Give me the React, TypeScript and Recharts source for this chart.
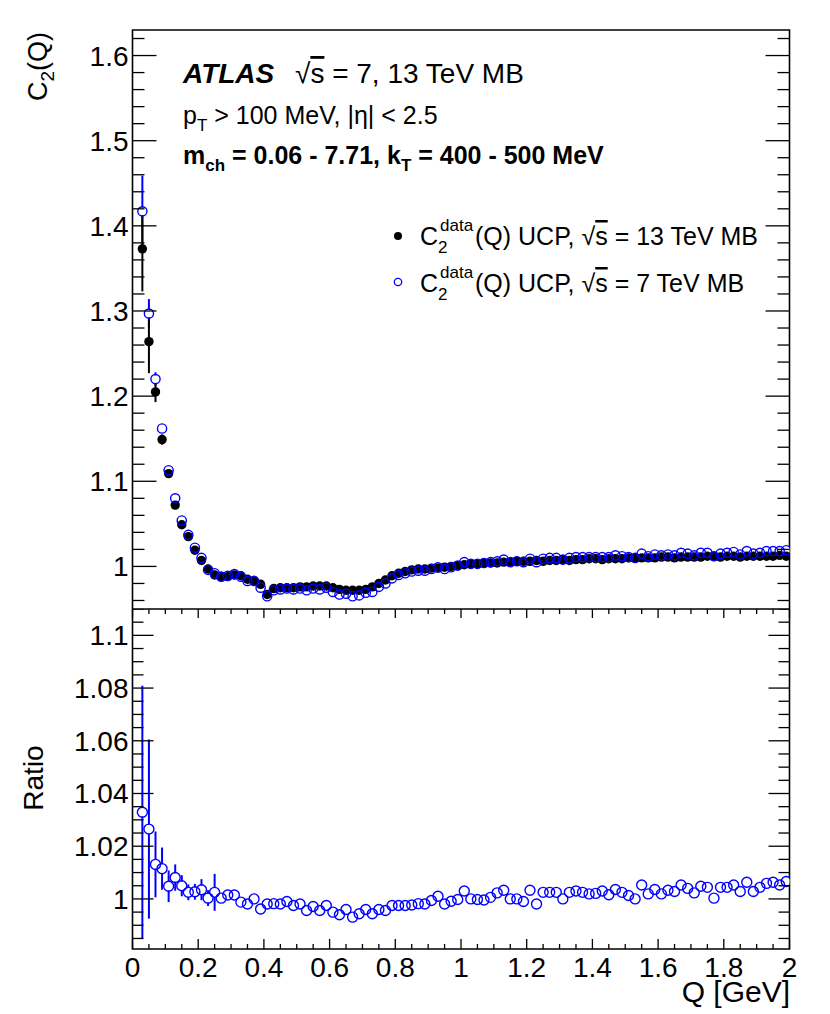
import { ScatterChart, Scatter, XAxis, YAxis, ErrorBar, ReferenceArea } from "recharts";

// bin centres in Q [GeV]
const qBins = [
  0.03, 0.05, 0.07, 0.09, 0.11, 0.13, 0.15, 0.17, 0.19, 0.21,
  0.23, 0.25, 0.27, 0.29, 0.31, 0.33, 0.35, 0.37, 0.39, 0.41,
  0.43, 0.45, 0.47, 0.49, 0.51, 0.53, 0.55, 0.57, 0.59, 0.61,
  0.63, 0.65, 0.67, 0.69, 0.71, 0.73, 0.75, 0.77, 0.79, 0.81,
  0.83, 0.85, 0.87, 0.89, 0.91, 0.93, 0.95, 0.97, 0.99, 1.01,
  1.03, 1.05, 1.07, 1.09, 1.11, 1.13, 1.15, 1.17, 1.19, 1.21,
  1.23, 1.25, 1.27, 1.29, 1.31, 1.33, 1.35, 1.37, 1.39, 1.41,
  1.43, 1.45, 1.47, 1.49, 1.51, 1.53, 1.55, 1.57, 1.59, 1.61,
  1.63, 1.65, 1.67, 1.69, 1.71, 1.73, 1.75, 1.77, 1.79, 1.81,
  1.83, 1.85, 1.87, 1.89, 1.91, 1.93, 1.95, 1.97, 1.99,
];

// C2(Q), sqrt(s) = 13 TeV
const c2At13TeV = [
  1.373, 1.264, 1.205, 1.149, 1.109, 1.072, 1.049, 1.035, 1.019, 1.007,
  0.997, 0.990, 0.988, 0.988, 0.990, 0.989, 0.985, 0.983, 0.979, 0.967,
  0.974, 0.975, 0.975, 0.975, 0.976, 0.976, 0.977, 0.977, 0.977, 0.975,
  0.973, 0.972, 0.972, 0.972, 0.973, 0.976, 0.980, 0.984, 0.989, 0.992,
  0.994, 0.996, 0.997, 0.997, 0.998, 0.998, 0.999, 1.000, 1.001, 1.002,
  1.003, 1.003, 1.004, 1.004, 1.004, 1.005, 1.005, 1.006, 1.006, 1.006,
  1.007, 1.006, 1.007, 1.007, 1.008, 1.007, 1.008, 1.008, 1.009, 1.009,
  1.008, 1.009, 1.009, 1.009, 1.010, 1.010, 1.010, 1.010, 1.010, 1.011,
  1.011, 1.010, 1.011, 1.011, 1.011, 1.011, 1.012, 1.012, 1.011, 1.012,
  1.012, 1.011, 1.012, 1.012, 1.012, 1.012, 1.012, 1.013, 1.012,
];
const c2At13TeVErr = [
  0.050, 0.037, 0.012, 0.006, 0.004, 0.003, 0.002, 0.002, 0.002, 0.001,
  0.001, 0.001, 0.001, 0.001, 0.001, 0.001, 0.001, 0.001, 0.001, 0.001,
  0.001, 0.001, 0.001, 0.001, 0.001, 0.001, 0.001, 0.001, 0.001, 0.001,
  0.001, 0.001, 0.001, 0.001, 0.001, 0.001, 0.001, 0.001, 0.001, 0.001,
  0.001, 0.001, 0.001, 0.001, 0.001, 0.001, 0.001, 0.001, 0.001, 0.001,
  0.001, 0.001, 0.001, 0.001, 0.001, 0.001, 0.001, 0.001, 0.001, 0.001,
  0.001, 0.001, 0.001, 0.001, 0.001, 0.001, 0.001, 0.001, 0.001, 0.001,
  0.001, 0.001, 0.001, 0.001, 0.001, 0.001, 0.001, 0.001, 0.001, 0.001,
  0.001, 0.001, 0.001, 0.001, 0.001, 0.001, 0.001, 0.001, 0.001, 0.001,
  0.001, 0.001, 0.001, 0.001, 0.001, 0.001, 0.001, 0.001, 0.001,
];

// C2(Q), sqrt(s) = 7 TeV
const c2At7TeV = [
  1.417, 1.297, 1.220, 1.162, 1.113, 1.080, 1.054, 1.037, 1.022, 1.010,
  0.996, 0.992, 0.988, 0.989, 0.991, 0.988, 0.983, 0.983, 0.975, 0.965,
  0.972, 0.973, 0.974, 0.973, 0.974, 0.972, 0.974, 0.973, 0.975, 0.970,
  0.967, 0.968, 0.965, 0.966, 0.969, 0.970, 0.976, 0.980, 0.986, 0.990,
  0.992, 0.994, 0.995, 0.995, 0.997, 0.999, 0.997, 0.999, 1.001, 1.005,
  1.003, 1.003, 1.004, 1.005, 1.006, 1.008, 1.005, 1.006, 1.005, 1.009,
  1.005, 1.009, 1.010, 1.010, 1.008, 1.010, 1.011, 1.011, 1.011, 1.011,
  1.011, 1.011, 1.013, 1.012, 1.011, 1.010, 1.015, 1.012, 1.014, 1.013,
  1.014, 1.013, 1.016, 1.015, 1.013, 1.016, 1.016, 1.012, 1.015, 1.016,
  1.017, 1.014, 1.018, 1.015, 1.016, 1.018, 1.018, 1.018, 1.019,
];
const c2At7TeVErr = [
  0.042, 0.017, 0.008, 0.004, 0.003, 0.002, 0.002, 0.001, 0.001, 0.001,
  0.001, 0.001, 0.001, 0.001, 0.001, 0.001, 0.001, 0.001, 0.001, 0.001,
  0.001, 0.001, 0.001, 0.001, 0.001, 0.001, 0.001, 0.001, 0.001, 0.001,
  0.001, 0.001, 0.001, 0.001, 0.001, 0.001, 0.001, 0.001, 0.001, 0.001,
  0.001, 0.001, 0.001, 0.001, 0.001, 0.001, 0.001, 0.001, 0.001, 0.001,
  0.001, 0.001, 0.001, 0.001, 0.001, 0.001, 0.001, 0.001, 0.001, 0.001,
  0.001, 0.001, 0.001, 0.001, 0.001, 0.001, 0.001, 0.001, 0.001, 0.001,
  0.001, 0.001, 0.001, 0.001, 0.001, 0.001, 0.001, 0.001, 0.001, 0.001,
  0.001, 0.001, 0.001, 0.001, 0.001, 0.001, 0.001, 0.001, 0.001, 0.001,
  0.001, 0.001, 0.001, 0.001, 0.001, 0.001, 0.001, 0.001, 0.001,
];

// ratio 7 TeV / 13 TeV
const ratio7to13 = [
  1.0329, 1.0265, 1.0131, 1.0115, 1.0048, 1.0081, 1.0050, 1.0025, 1.0027, 1.0035,
  1.0003, 1.0025, 1.0003, 1.0015, 1.0015, 0.9988, 0.9981, 1.0000, 0.9962, 0.9981,
  0.9982, 0.9981, 0.9990, 0.9975, 0.9981, 0.9956, 0.9971, 0.9956, 0.9975, 0.9950,
  0.9940, 0.9960, 0.9931, 0.9944, 0.9960, 0.9944, 0.9960, 0.9956, 0.9975, 0.9975,
  0.9975, 0.9977, 0.9982, 0.9981, 0.9994, 1.0010, 0.9981, 0.9991, 0.9998, 1.0030,
  1.0000, 0.9998, 0.9996, 1.0006, 1.0023, 1.0033, 1.0000, 1.0000, 0.9990, 1.0033,
  0.9981, 1.0025, 1.0025, 1.0025, 1.0000, 1.0025, 1.0030, 1.0025, 1.0019, 1.0021,
  1.0030, 1.0016, 1.0036, 1.0025, 1.0013, 1.0000, 1.0053, 1.0019, 1.0036, 1.0019,
  1.0033, 1.0028, 1.0053, 1.0040, 1.0023, 1.0048, 1.0044, 1.0003, 1.0044, 1.0044,
  1.0053, 1.0028, 1.0063, 1.0028, 1.0044, 1.0059, 1.0063, 1.0053, 1.0066,
];
const ratioErr = [
  0.048, 0.034, 0.0125, 0.008, 0.006, 0.005, 0.004, 0.003, 0.003, 0.004,
  0.003, 0.007, 0.0015, 0.0015, 0.0015, 0.0015, 0.0015, 0.0015, 0.0015, 0.0015,
  0.0015, 0.0015, 0.0015, 0.0015, 0.0015, 0.0015, 0.0015, 0.0015, 0.0015, 0.0015,
  0.0015, 0.0015, 0.0015, 0.0015, 0.0015, 0.0015, 0.0015, 0.0015, 0.0015, 0.0015,
  0.0015, 0.0015, 0.0015, 0.0015, 0.0015, 0.0015, 0.0015, 0.0015, 0.0015, 0.0015,
  0.0015, 0.0015, 0.0015, 0.0015, 0.0015, 0.0015, 0.0015, 0.0015, 0.0015, 0.0015,
  0.0015, 0.0015, 0.0015, 0.0015, 0.0015, 0.0015, 0.0015, 0.0015, 0.0015, 0.0015,
  0.0015, 0.0015, 0.0015, 0.0015, 0.0015, 0.0015, 0.0015, 0.0015, 0.0015, 0.0015,
  0.0015, 0.0015, 0.0015, 0.0015, 0.0015, 0.0015, 0.0015, 0.0015, 0.0015, 0.0015,
  0.0015, 0.0015, 0.0015, 0.0015, 0.0015, 0.0015, 0.0015, 0.0015, 0.0015,
];

// axis labels
const qTickLabels = [0, 0.2, 0.4, 0.6, 0.8, 1, 1.2, 1.4, 1.6, 1.8, 2];
const c2TickLabels = [1, 1.1, 1.2, 1.3, 1.4, 1.5, 1.6];
const ratioTickLabels = [1, 1.02, 1.04, 1.06, 1.08, 1.1];

const Q_DOMAIN: [number, number] = [0, 2];
const C2_DOMAIN: [number, number] = [0.95, 1.63];
const RATIO_DOMAIN: [number, number] = [0.981, 1.11];

// layout (page px)
const W = 830;
const H = 1014;
const PLOT_L = 132.5;
const PLOT_R = 789.5;
const PLOT_W = PLOT_R - PLOT_L;
const TOP_Y = 30;
const SPLIT_Y = 609;
const BOT_Y = 949;

const FONT = "'Liberation Sans', Arial, Helvetica, sans-serif";
const BLUE = "#0000ff";

function range(from: number, to: number, step: number) {
  const out: number[] = [];
  for (let v = from; v <= to + step / 10; v += step) out.push(Math.round(v * 10000) / 10000);
  return out;
}

const qTicks = range(0, 2, 0.05);
const c2Ticks = range(0.96, 1.62, 0.02);
const ratioTicks = range(0.985, 1.11, 0.005);

const topRows = qBins.map((q, i) => ({
  q,
  c13: c2At13TeV[i],
  e13: c2At13TeVErr[i],
  c7: c2At7TeV[i],
  e7: c2At7TeVErr[i],
}));
const ratioRows = qBins.map((q, i) => ({ q, r: ratio7to13[i], e: ratioErr[i] }));

const fmt = (v: number) => String(Math.round(v * 1000) / 1000);
const isIn = (list: number[], v: number) => list.some((l) => Math.abs(l - v) < 1e-6);

type YTickCfg = { labels: number[]; major: number; minor: number };

function YTick(props: any) {
  const { x, y, payload, cfg } = props as { x: number; y: number; payload: { value: number }; cfg: YTickCfg };
  const major = isIn(cfg.labels, payload.value);
  const len = major ? cfg.major : cfg.minor;
  return (
    <g>
      <line x1={x} x2={x + len} y1={y} y2={y} stroke="#000" strokeWidth={1.3} />
      <line x1={x + PLOT_W} x2={x + PLOT_W - len} y1={y} y2={y} stroke="#000" strokeWidth={1.3} />
      {major && (
        <text x={x - 4} y={y + 10} textAnchor="end" fontSize={28} fontFamily={FONT} fill="#000">
          {fmt(payload.value)}
        </text>
      )}
    </g>
  );
}

type XTickCfg = { plotH: number; bottom: [number, number]; top: [number, number]; labels: boolean };

function XTick(props: any) {
  const { x, y, payload, cfg } = props as { x: number; y: number; payload: { value: number }; cfg: XTickCfg };
  const major = isIn(qTickLabels, payload.value);
  const lb = major ? cfg.bottom[0] : cfg.bottom[1];
  const lt = major ? cfg.top[0] : cfg.top[1];
  const yTop = y - cfg.plotH;
  return (
    <g>
      <line x1={x} x2={x} y1={y} y2={y - lb} stroke="#000" strokeWidth={1.3} />
      <line x1={x} x2={x} y1={yTop} y2={yTop + lt} stroke="#000" strokeWidth={1.3} />
      {major && cfg.labels && (
        <text x={x} y={y + 28} textAnchor="middle" fontSize={28} fontFamily={FONT} fill="#000">
          {fmt(payload.value)}
        </text>
      )}
    </g>
  );
}

// markers; the white disks sit under the hollow circles so error bars stop at the marker edge
const FilledDot = (p: any) => <circle cx={p.cx} cy={p.cy} r={4.7} fill="#000" />;
const OpenDot = (p: any) => <circle cx={p.cx} cy={p.cy} r={4.6} fill="none" stroke={BLUE} strokeWidth={1.4} />;
const OpenDotMask = (p: any) => <circle cx={p.cx} cy={p.cy} r={3.9} fill="#fff" />;
const RatioDot = (p: any) => <circle cx={p.cx} cy={p.cy} r={5} fill="none" stroke={BLUE} strokeWidth={1.4} />;
const RatioDotMask = (p: any) => <circle cx={p.cx} cy={p.cy} r={4.3} fill="#fff" />;

function TopPanel() {
  return (
    <ScatterChart
      width={W}
      height={SPLIT_Y}
      margin={{ top: TOP_Y, right: W - PLOT_R, left: 0, bottom: 0 }}
    >
      <XAxis
        type="number"
        dataKey="q"
        domain={Q_DOMAIN}
        allowDataOverflow
        ticks={qTicks}
        interval={0}
        height={0}
        tickSize={0}
        tickMargin={0}
        axisLine={false}
        tickLine={false}
        tick={(p: any) => <XTick {...p} cfg={{ plotH: SPLIT_Y - TOP_Y, bottom: [14, 7], top: [13, 7], labels: false }} />}
      />
      <YAxis
        type="number"
        domain={C2_DOMAIN}
        allowDataOverflow
        ticks={c2Ticks}
        interval={0}
        width={PLOT_L}
        tickSize={0}
        tickMargin={0}
        axisLine={false}
        tickLine={false}
        tick={(p: any) => <YTick {...p} cfg={{ labels: c2TickLabels, major: 24, minor: 12 }} />}
      />
      <ReferenceArea
        x1={Q_DOMAIN[0]}
        x2={Q_DOMAIN[1]}
        y1={C2_DOMAIN[0]}
        y2={C2_DOMAIN[1]}
        fill="none"
        stroke="#000"
        strokeWidth={1.6}
        ifOverflow="visible"
      />
      <Scatter data={topRows} dataKey="c7" shape={OpenDotMask} isAnimationActive={false}>
        <ErrorBar dataKey="e7" direction="y" width={0} stroke={BLUE} strokeWidth={2} isAnimationActive={false} />
      </Scatter>
      <Scatter data={topRows} dataKey="c13" shape={FilledDot} isAnimationActive={false}>
        <ErrorBar dataKey="e13" direction="y" width={0} stroke="#000" strokeWidth={2} isAnimationActive={false} />
      </Scatter>
      <Scatter data={topRows} dataKey="c7" shape={OpenDot} isAnimationActive={false} />
    </ScatterChart>
  );
}

function RatioPanel() {
  return (
    <ScatterChart
      width={W}
      height={H - SPLIT_Y}
      margin={{ top: 0, right: W - PLOT_R, left: 0, bottom: 0 }}
    >
      <XAxis
        type="number"
        dataKey="q"
        domain={Q_DOMAIN}
        allowDataOverflow
        ticks={qTicks}
        interval={0}
        height={H - BOT_Y}
        tickSize={0}
        tickMargin={0}
        axisLine={false}
        tickLine={false}
        tick={(p: any) => <XTick {...p} cfg={{ plotH: BOT_Y - SPLIT_Y, bottom: [10, 5], top: [9, 5], labels: true }} />}
      />
      <YAxis
        type="number"
        domain={RATIO_DOMAIN}
        allowDataOverflow
        ticks={ratioTicks}
        interval={0}
        width={PLOT_L}
        tickSize={0}
        tickMargin={0}
        axisLine={false}
        tickLine={false}
        tick={(p: any) => <YTick {...p} cfg={{ labels: ratioTickLabels, major: 21, minor: 11 }} />}
      />
      <ReferenceArea
        x1={Q_DOMAIN[0]}
        x2={Q_DOMAIN[1]}
        y1={RATIO_DOMAIN[0]}
        y2={RATIO_DOMAIN[1]}
        fill="none"
        stroke="#000"
        strokeWidth={1.6}
        ifOverflow="visible"
      />
      <Scatter data={ratioRows} dataKey="r" shape={RatioDotMask} isAnimationActive={false}>
        <ErrorBar dataKey="e" direction="y" width={0} stroke={BLUE} strokeWidth={2} isAnimationActive={false} />
      </Scatter>
      <Scatter data={ratioRows} dataKey="r" shape={RatioDot} isAnimationActive={false} />
    </ScatterChart>
  );
}

function Annotations() {
  const t = { fontFamily: FONT, fill: "#000" };
  return (
    <svg width={W} height={H} style={{ position: "absolute", left: 0, top: 0, pointerEvents: "none" }}>
      {/* y titles */}
      <text {...t} fontSize={27} transform={`translate(47,32) rotate(-90)`} textAnchor="end">
        C<tspan fontSize={19} dy={7}>2</tspan>
        <tspan dy={-7}>(Q)</tspan>
      </text>
      <text {...t} fontSize={28} transform={`translate(43,778) rotate(-90)`} textAnchor="middle">
        Ratio
      </text>
      {/* x title */}
      <text {...t} fontSize={30} x={790} y={1002} textAnchor="end">
        Q [GeV]
      </text>

      {/* ATLAS block */}
      <text {...t} fontSize={28} x={183} y={83} fontWeight="bold" fontStyle="italic">
        ATLAS
      </text>
      <text {...t} fontSize={28} x={295} y={83}>
        √<tspan style={{ textDecoration: "overline" }}>s</tspan> = 7, 13 TeV MB
      </text>
      <text {...t} fontSize={25} x={183} y={124}>
        p<tspan fontSize={17} dy={7}>T</tspan>
        <tspan dy={-7}> &gt; 100 MeV, |η| &lt; 2.5</tspan>
      </text>
      <text {...t} fontSize={25} x={183} y={164} fontWeight="bold">
        m<tspan fontSize={17} dy={7}>ch</tspan>
        <tspan dy={-7}> = 0.06 - 7.71, k</tspan>
        <tspan fontSize={17} dy={7}>T</tspan>
        <tspan dy={-7}> = 400 - 500 MeV</tspan>
      </text>

      {/* legend */}
      <circle cx={398} cy={236} r={4} fill="#000" />
      <text {...t} fontSize={25} x={420} y={245}>C</text>
      <text {...t} fontSize={17} x={438} y={253}>2</text>
      <text {...t} fontSize={17} x={440} y={231}>data</text>
      <text {...t} fontSize={25} x={475} y={245}>
        (Q) UCP, √<tspan style={{ textDecoration: "overline" }}>s</tspan> = 13 TeV MB
      </text>

      <circle cx={398} cy={282} r={3.7} fill="none" stroke={BLUE} strokeWidth={1.3} />
      <text {...t} fontSize={25} x={420} y={292}>C</text>
      <text {...t} fontSize={17} x={438} y={300}>2</text>
      <text {...t} fontSize={17} x={440} y={278}>data</text>
      <text {...t} fontSize={25} x={475} y={292}>
        (Q) UCP, √<tspan style={{ textDecoration: "overline" }}>s</tspan> = 7 TeV MB
      </text>
    </svg>
  );
}

export default function App() {
  return (
    <div style={{ position: "absolute", left: 0, top: 0, width: W, height: H, background: "#fff", fontFamily: FONT }}>
      <div style={{ position: "absolute", left: 0, top: 0 }}>
        <TopPanel />
      </div>
      <div style={{ position: "absolute", left: 0, top: SPLIT_Y }}>
        <RatioPanel />
      </div>
      <Annotations />
    </div>
  );
}
